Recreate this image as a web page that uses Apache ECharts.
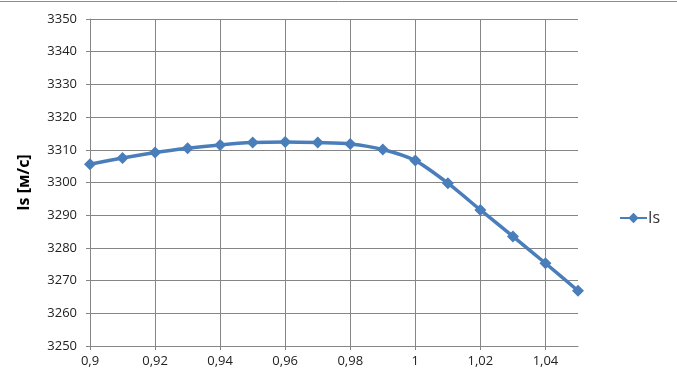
<!DOCTYPE html>
<html><head><meta charset="utf-8">
<script src="https://cdn.jsdelivr.net/npm/echarts@6/dist/echarts.min.js"></script>
<style>html,body{margin:0;padding:0;background:#fff}#c{width:677px;height:381px}</style>
</head><body><div id="c"></div>
<script>
const xValues = [0.90,0.91,0.92,0.93,0.94,0.95,0.96,0.97,0.98,0.99,1.00,1.01,1.02,1.03,1.04,1.05];
const isValues = [3305.6,3307.5,3309.2,3310.5,3311.5,3312.2,3312.4,3312.2,3311.8,3310.1,3306.7,3299.8,3291.6,3283.5,3275.3,3266.9];
const seriesName = 'Is';
const yAxisTitle = 'Is [м/с]';

const chart = echarts.init(document.getElementById('c'));
const font = '"Open Sans", "Noto Sans", sans-serif';
chart.setOption({
  animation: false,
  textStyle: {fontFamily: font},
  graphic: [{type:'line', shape:{x1:0,y1:1.5,x2:677,y2:1.5}, style:{stroke:'#8c8c8c', lineWidth:1}}],
  grid: {left: 90, right: 99, top: 19, bottom: 35, containLabel: false},
  legend: {
    data: [seriesName], left: 614, top: 205, itemWidth: 27, itemHeight: 13, itemGap: 2,
    textStyle: {fontSize: 16, color: '#333', fontFamily: font, padding:[0,0,0,-4]}
  },
  xAxis: {
    type: 'value', min: 0.9, max: 1.05, interval: 0.02,
    axisLine: {show: true, lineStyle: {color: '#868686', width: 1}},
    axisTick: {show: true, length: 4, lineStyle: {color: '#868686'}},
    axisLabel: {showMaxLabel: false, fontSize: 13, color: '#222', margin: 9,
      formatter: v => String(+v.toFixed(2)).replace('.', ',')},
    splitLine: {show: true, showMaxLine: false, lineStyle: {color: '#868686', width: 1}}
  },
  yAxis: {
    type: 'value', min: 3250, max: 3350, interval: 10,
    name: yAxisTitle, nameLocation: 'middle', nameGap: 58, nameRotate: 90,
    nameTextStyle: {fontSize: 16, fontWeight: 'bold', color: '#000', fontFamily: font},
    axisLine: {show: true, lineStyle: {color: '#868686', width: 1}},
    axisTick: {show: true, length: 4, lineStyle: {color: '#868686'}},
    axisLabel: {fontSize: 13, color: '#222', margin: 13, formatter: v => String(v)},
    splitLine: {show: true, lineStyle: {color: '#868686', width: 1}}
  },
  series: [{
    name: seriesName, type: 'line', smooth: 0.25,
    data: xValues.map((x, i) => [x, isValues[i]]),
    symbol: 'diamond', symbolSize: 12,
    lineStyle: {color: '#4a7ebb', width: 3.5},
    itemStyle: {color: '#4a7ebb'}
  }]
});
</script></body></html>
